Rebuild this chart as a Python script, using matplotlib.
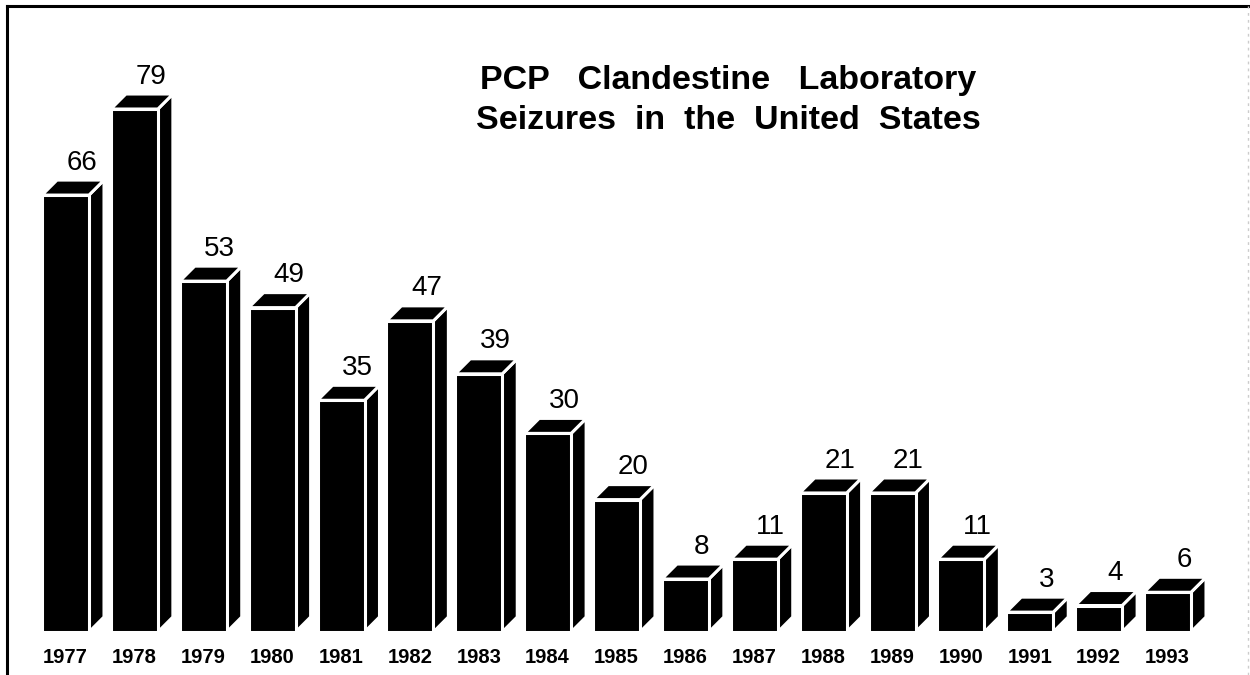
import matplotlib
matplotlib.use("Agg")
import matplotlib.pyplot as plt
from matplotlib.patches import Polygon
from matplotlib.lines import Line2D

years = ["1977", "1978", "1979", "1980", "1981", "1982", "1983", "1984", "1985",
         "1986", "1987", "1988", "1989", "1990", "1991", "1992", "1993"]
seizures = [66, 79, 53, 49, 35, 47, 39, 30, 20, 8, 11, 21, 21, 11, 3, 4, 6]
title_lines = ["PCP   Clandestine   Laboratory", "Seizures  in  the  United  States"]

plt.rcParams['font.family'] = ['Liberation Sans', 'DejaVu Sans']

W, H, DPI = 1250, 675, 100
fig = plt.figure(figsize=(W / DPI, H / DPI), dpi=DPI)
ax = fig.add_axes([0, 0, 1, 1])

# pixel mapping helpers for the axes
x0_px, step_px = 65.5, 68.875      # centre of first bar front, spacing
y0_px, unit_px = 632, 6.62          # baseline (from top), pixels per unit
ax.set_xlim(-x0_px / step_px, (W - x0_px) / step_px)
ax.set_ylim(-(H - y0_px) / unit_px, y0_px / unit_px)
ax.axis("off")

bar_w = 47 / step_px
dx = 15 / step_px
dy = 15 / unit_px
edge_lw = 2.2

for i, v in enumerate(seizures):
    xl = i - bar_w / 2
    xr = i + bar_w / 2
    front = Polygon([(xl, 0), (xr, 0), (xr, v), (xl, v)], closed=True,
                    facecolor="black", edgecolor="white", linewidth=edge_lw, zorder=3)
    side = Polygon([(xr, 0), (xr + dx, dy), (xr + dx, v + dy), (xr, v)], closed=True,
                   facecolor="black", edgecolor="white", linewidth=edge_lw, zorder=2)
    top = Polygon([(xl, v), (xr, v), (xr + dx, v + dy), (xl + dx, v + dy)], closed=True,
                  facecolor="black", edgecolor="white", linewidth=edge_lw, zorder=2)
    ax.add_patch(side)
    ax.add_patch(top)
    ax.add_patch(front)
    ax.annotate(str(v), xy=(i + dx * 1.1, v + dy), xytext=(0, 7.5),
                textcoords="offset points", ha="center", va="baseline",
                fontsize=20, color="black")
    ax.annotate(years[i], xy=(i, 0), xytext=(0, -22.5),
                textcoords="offset points", ha="center", va="baseline",
                fontsize=14.5, fontweight="bold", color="black")

# title
fig.text(728 / W, 1 - 89 / H, title_lines[0], ha="center", va="baseline",
         fontsize=24.5, fontweight="bold", color="black")
fig.text(728 / W, 1 - 129 / H, title_lines[1], ha="center", va="baseline",
         fontsize=24.5, fontweight="bold", color="black")

# frame lines
fig.add_artist(Line2D([7 / W, 1], [1 - 6 / H, 1 - 6 / H], color="black", lw=2.2,
                      transform=fig.transFigure))
fig.add_artist(Line2D([7 / W, 7 / W], [0, 1 - 6 / H], color="black", lw=2.2,
                      transform=fig.transFigure))
fig.add_artist(Line2D([1248 / W, 1248 / W], [0, 1 - 6 / H], color="#cccccc", lw=1,
                      linestyle=(0, (2, 3)), transform=fig.transFigure))

fig.savefig("out.png", dpi=DPI, facecolor="white")
